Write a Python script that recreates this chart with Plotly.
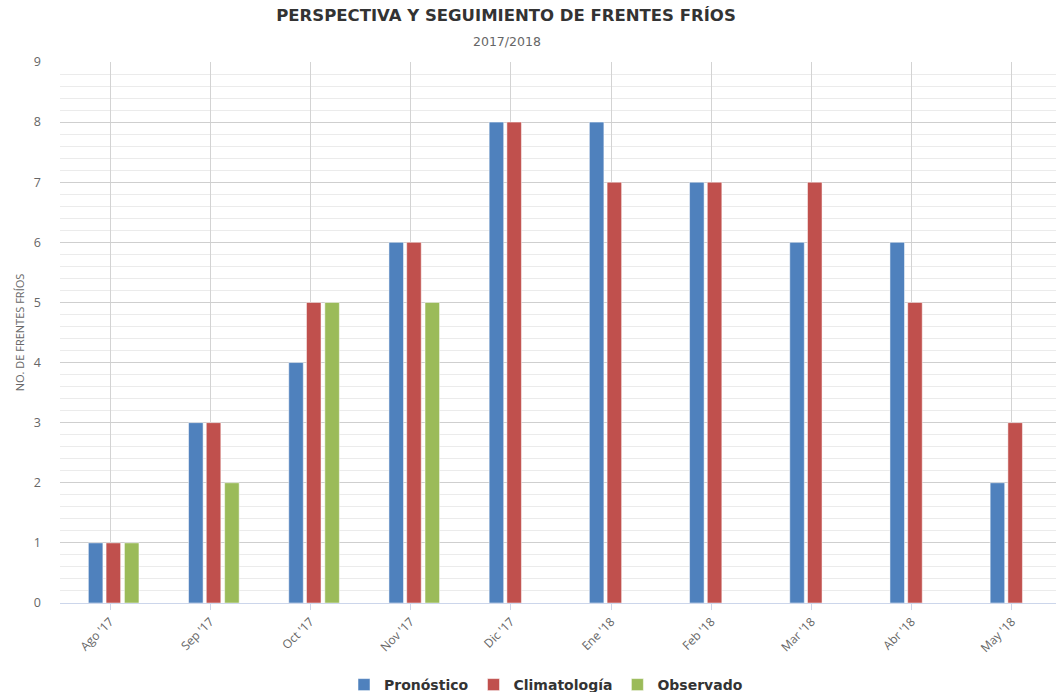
import plotly.graph_objects as go

months = ["Ago '17", "Sep '17", "Oct '17", "Nov '17", "Dic '17",
          "Ene '18", "Feb '18", "Mar '18", "Abr '18", "May '18"]
pronostico = [1, 3, 4, 6, 8, 8, 7, 6, 6, 2]
climatologia = [1, 3, 5, 6, 8, 7, 7, 7, 5, 3]
observado = [1, 2, 5, 5, None, None, None, None, None, None]

BAR_W = 0.145

fig = go.Figure()
fig.add_trace(go.Bar(x=months, y=pronostico, name="Pronóstico", width=BAR_W, offset=-0.217,
                     marker=dict(color="#4F81BD", line=dict(color="white", width=0.5))))
fig.add_trace(go.Bar(x=months, y=climatologia, name="Climatología", width=BAR_W, offset=-0.04,
                     marker=dict(color="#C0504D", line=dict(color="white", width=0.5))))
fig.add_trace(go.Bar(x=months, y=observado, name="Observado", width=BAR_W, offset=0.143,
                     marker=dict(color="#9BBB59", line=dict(color="white", width=0.5))))

fig.update_layout(
    width=1056,
    height=692,
    margin=dict(l=60, r=0, t=62, b=89, autoexpand=False),
    paper_bgcolor="white",
    plot_bgcolor="white",
    barmode="overlay",
    font=dict(family="Open Sans", color="#666666", size=11),
    title=dict(
        text="<b>PERSPECTIVA Y SEGUIMIENTO DE FRENTES FRÍOS</b>",
        xref="container", x=506 / 1056, xanchor="center",
        yref="container", y=1 - 15 / 692, yanchor="middle",
        font=dict(family="DejaVu Sans", size=16.5, color="#333333"),
    ),
    annotations=[dict(
        text="2017/2018", xref="paper", yref="paper", x=(507 - 60) / 996, y=1 + 20 / 541,
        xanchor="center", yanchor="middle", showarrow=False,
        font=dict(family="DejaVu Sans", size=12.5, color="#666666"),
    )],
    legend=dict(
        orientation="h", x=(546 - 60) / 996, xanchor="center", y=-82 / 541, yanchor="middle",
        font=dict(family="DejaVu Sans", size=14, color="#333333", weight="bold"),
        itemwidth=30, traceorder="normal",
    ),
    xaxis=dict(
        type="category",
        automargin=False,
        range=[-0.5, 9.44],
        showgrid=True, gridcolor="#d3d3d3", gridwidth=1,
        showline=True, linecolor="#ccd6eb",
        ticks="outside", ticklen=6, tickcolor="#ccd6eb",
        tickangle=-45, tickfont=dict(size=12, color="#666666"),
    ),
    yaxis=dict(
        automargin=False,
        range=[0, 9], dtick=1,
        showgrid=True, gridcolor="#cfcfcf", gridwidth=1,
        zeroline=False,
        minor=dict(dtick=0.2, showgrid=True, gridcolor="#ebebeb", gridwidth=1),
        tickfont=dict(size=12.5, color="#666666"),
        ticklabelstandoff=18,
        title=dict(text="NO. DE FRENTES FRÍOS", font=dict(size=11, color="#666666"), standoff=6),
    ),
)

# drop the default 8px page margin so the figure sits at the window's corner
fig.write_html(
    "out.html",
    config={"displayModeBar": False},
    post_script="document.body.style.margin = '0';",
)
